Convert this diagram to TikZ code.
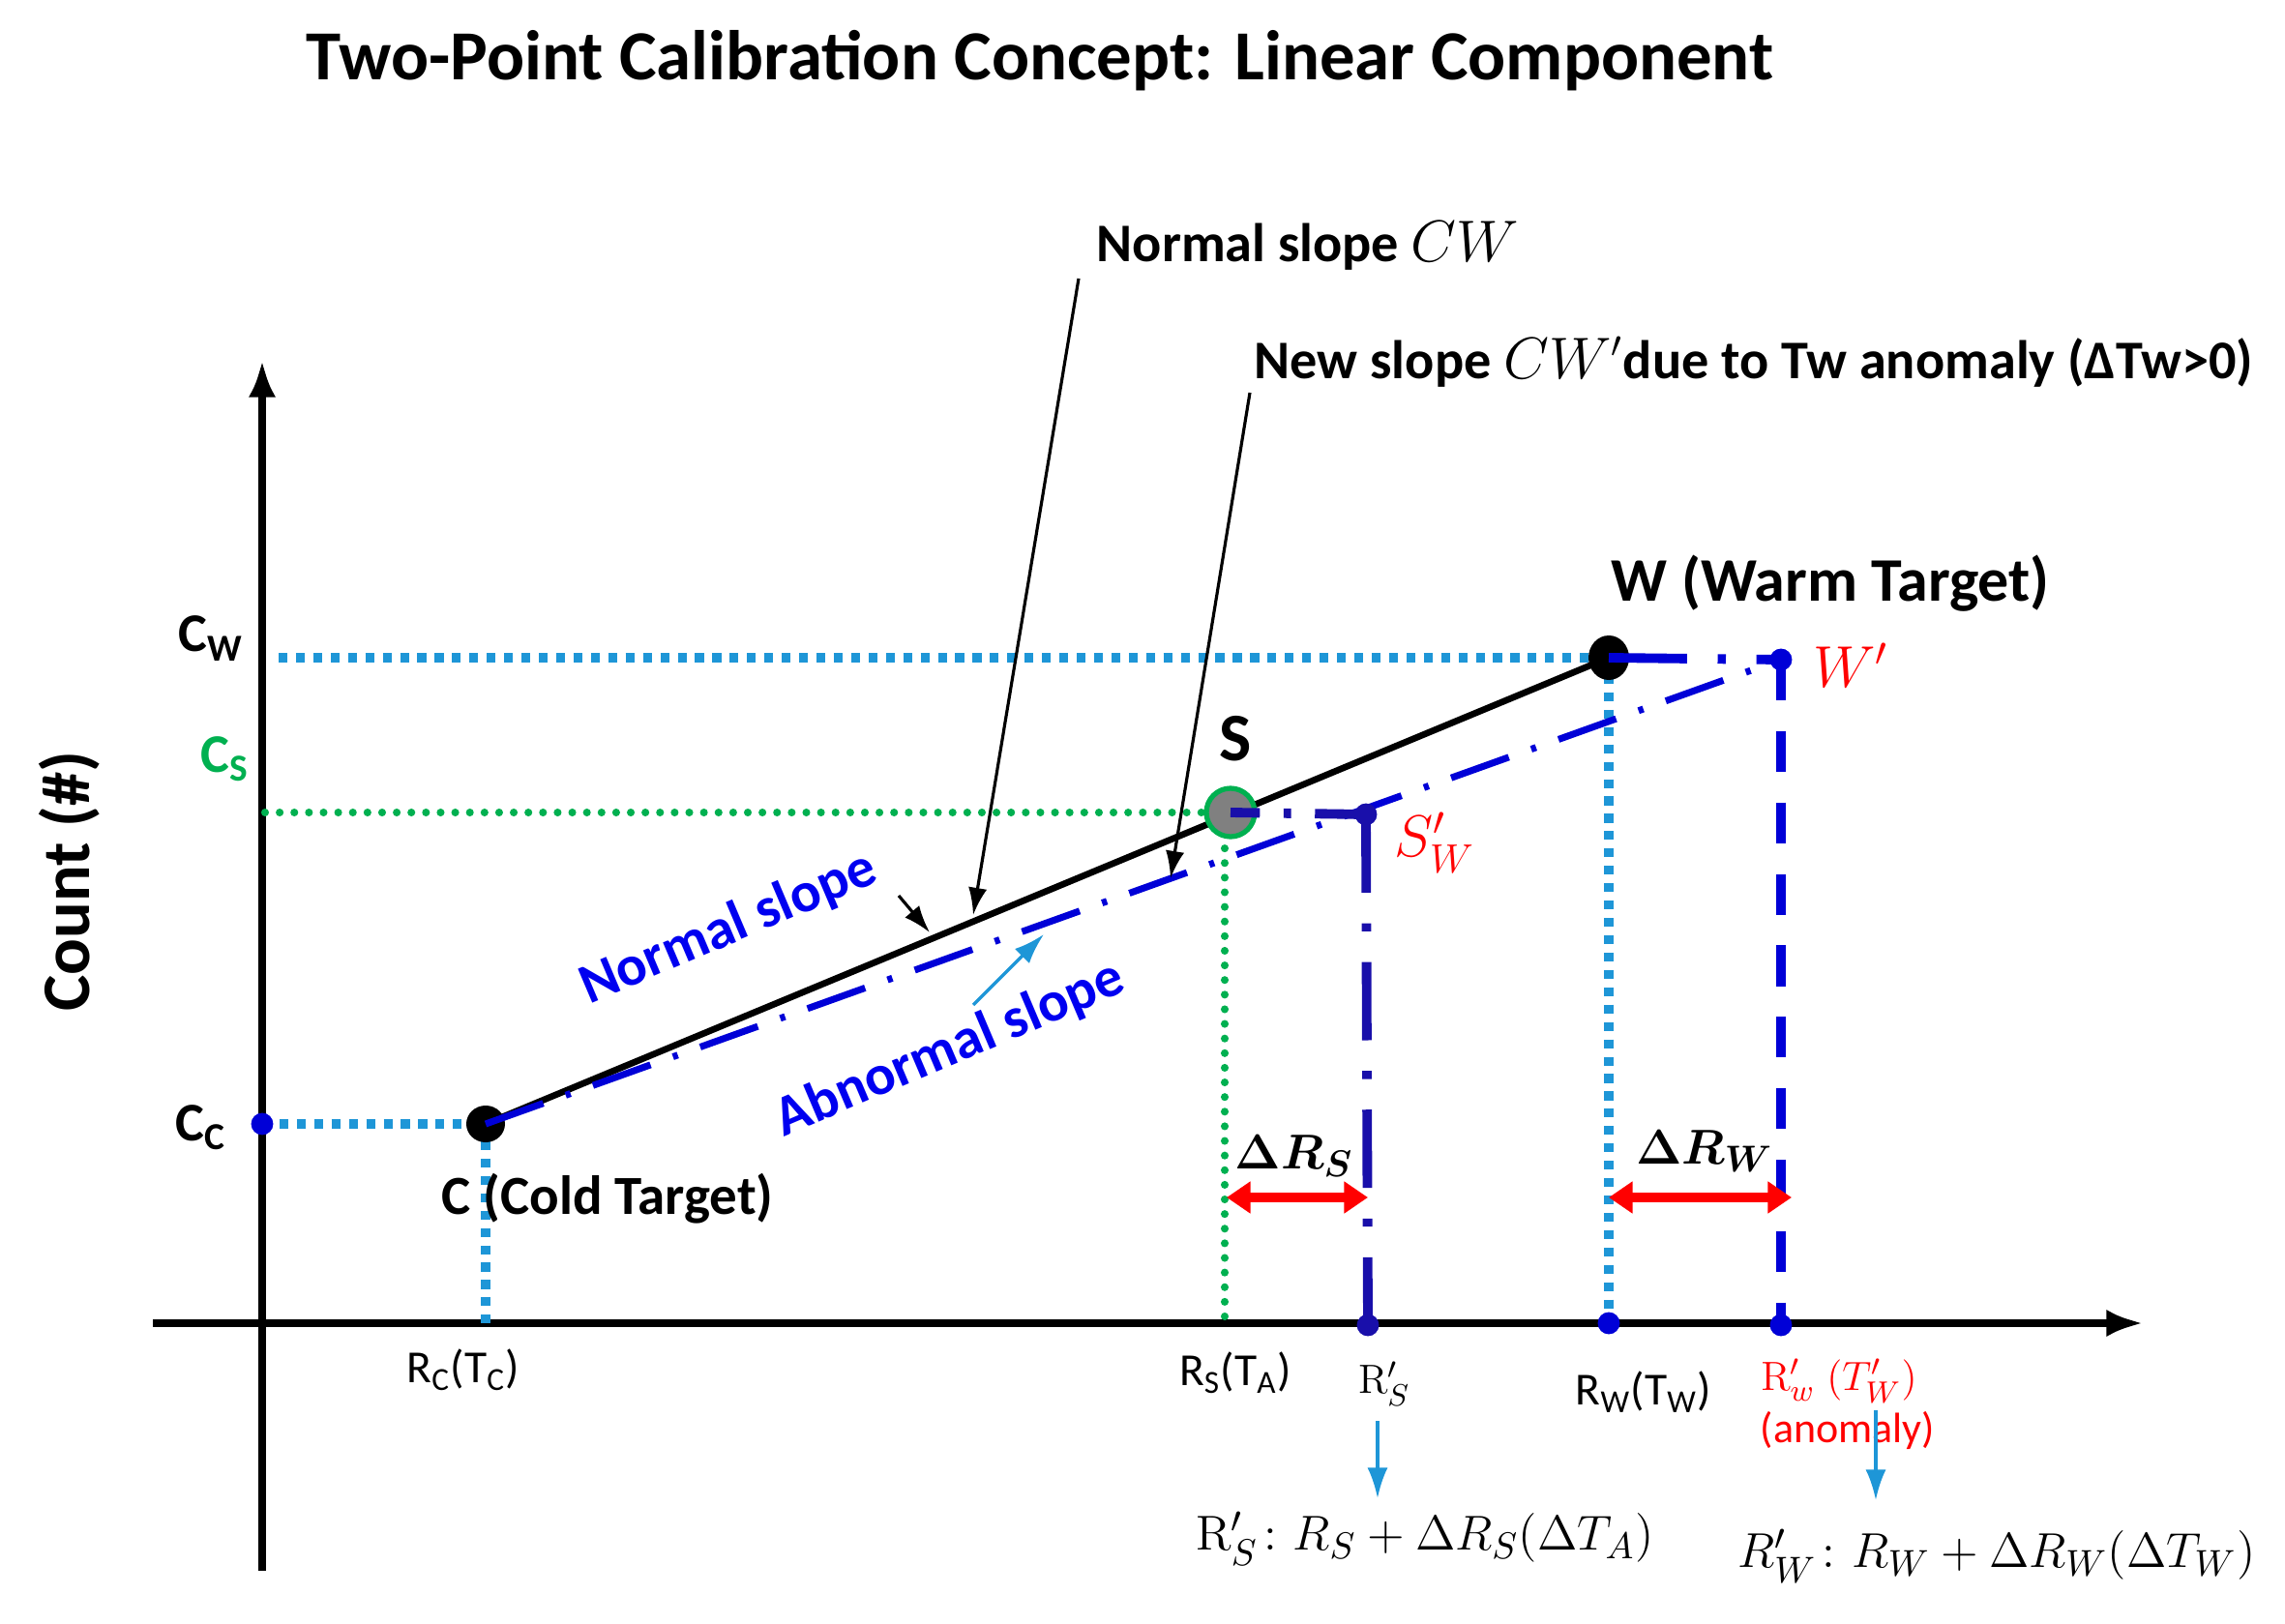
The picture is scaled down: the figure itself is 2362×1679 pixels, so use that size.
\documentclass[tikz,border=0pt]{standalone}
\usepackage[no-math]{fontspec}
\setmainfont{Carlito}
\usepackage{amsmath}
\usetikzlibrary{arrows.meta}
\definecolor{lblue}{RGB}{30,150,215}
\definecolor{dgreen}{RGB}{0,176,80}
\definecolor{navyb}{RGB}{25,15,170}
\definecolor{mblue}{RGB}{0,0,215}
\definecolor{tblue}{RGB}{0,0,240}
\definecolor{lred}{RGB}{255,0,0}
\newcommand{\fs}[1]{\fontsize{#1}{#1}\selectfont}
\begin{document}
\begin{tikzpicture}[x=0.01cm,y=-0.01cm,
  lbdot/.style={draw=lblue,line width=2.6pt,dash pattern=on 2.6pt off 2.5pt},
  gdot/.style={draw=dgreen,line width=2.3pt,line cap=round,dash pattern=on 0pt off 4.3pt},
  normalline/.style={draw=black,line width=1.9pt},
  abline/.style={draw=mblue,line width=2pt,dash pattern=on 18pt off 7pt on 1.5pt off 7pt},
  navydd/.style={draw=navyb,line width=2.8pt,dash pattern=on 23pt off 9pt on 2.4pt off 9pt},
  navyshort/.style={draw=navyb,line width=2.8pt,dash pattern=on 15pt off 7pt on 2.2pt off 7pt},
  bluedd/.style={draw=mblue,line width=2.8pt,dash pattern=on 23pt off 9pt on 2.4pt off 9pt},
  bluedash/.style={draw=mblue,line width=2.8pt,dash pattern=on 12pt off 9pt},
  axisline/.style={draw=black,line width=2.2pt,-{Latex[length=11pt,width=8pt]}},
  thinarrow/.style={draw=black,line width=0.9pt,-{Latex[length=8pt,width=5.5pt]}},
  lbarrow/.style={draw=lblue,line width=1pt,-{Latex[length=9pt,width=6pt]}},
  redarrow/.style={draw=lred,line width=2.6pt,{Triangle[length=7pt,width=9pt]}-{Triangle[length=7pt,width=9pt]}},
  bdot/.style={circle,fill=mblue,inner sep=0pt,minimum size=6.5pt},
  ndot/.style={circle,fill=navyb,inner sep=0pt,minimum size=6.5pt},
  lbl/.style={inner sep=0pt},
]
\useasboundingbox (0,0) rectangle (2362,1679);
% key coordinates
\coordinate (C) at (502,1162);
\coordinate (W) at (1663,680);
\coordinate (S) at (1272,840);
\coordinate (Sp) at (1412,842);
\coordinate (Wp) at (1841,682);
\coordinate (Cc) at (271,1162);
\coordinate (Cw) at (288,680);
\coordinate (Cs) at (274,840);
\coordinate (RC) at (502,1368);
\coordinate (Sv) at (1266,862);
\coordinate (RS) at (1266,1368);
\coordinate (RSp) at (1414,1370);
\coordinate (RW) at (1663,1368);
\coordinate (RWp) at (1841,1370);
\coordinate (ytop) at (271,372);
\coordinate (ybot) at (271,1624);
\coordinate (xleft) at (158,1368);
\coordinate (xright) at (2216,1368);

% axes
\draw[axisline] (ybot) -- (ytop);
\draw[axisline] (xleft) -- (xright);

% light blue dotted projections
\draw[lbdot] (Cw) -- (W);
\draw[lbdot] (Cc) -- (C);
\draw[lbdot] (C) -- (RC);
\draw[lbdot] (W) -- (RW);
% green dotted projections
\draw[gdot] (Cs) -- (S);
\draw[gdot] (Sv) -- (RS);

% normal slope
\draw[normalline] (C) -- (W);
\fill[black] (C) ellipse (20 and 19);
\fill[black] (W) ellipse (21 and 23);
% abnormal slope
\draw[abline] (C) -- (Wp);
% S point
\draw[draw=dgreen,fill=gray,line width=1.5pt] (S) circle (25);
% S' and W' constructions
\draw[navyshort] (Sp) -- (S);
\draw[navydd] (Sp) -- (RSp);
\draw[bluedd] (W) -- (Wp);
\draw[bluedash] (Wp) -- (RWp);

% dots
\node[bdot] (dCc) at (Cc) {};
\node[ndot] (dSp) at (Sp) {};
\node[bdot] (dWp) at (Wp) {};
\node[ndot] (dRSp) at (RSp) {};
\node[bdot] (dRW) at (RW) {};
\node[bdot] (dRWp) at (RWp) {};

% delta arrows
\coordinate (dRSa) at (1268,1238);
\coordinate (dRSb) at (1414,1238);
\coordinate (dRWa) at (1663,1238);
\coordinate (dRWb) at (1852,1238);
\draw[redarrow] (dRSa) -- (dRSb);
\draw[redarrow] (dRWa) -- (dRWb);

% title and axis label
\node[lbl,anchor=base west,font=\fs{20.7}\bfseries] (title) at (316,83) {Two-Point Calibration Concept: Linear Component};
\node[lbl,anchor=base,rotate=90,font=\fs{20}\bfseries] (count) at (93,911) {Count (\#)};

% y labels
\node[lbl,font=\fs{16}\bfseries] (lCw) at (218,660) {C\textsubscript{W}};
\node[lbl,font=\fs{16}\bfseries,text=dgreen] (lCs) at (233,785) {C\textsubscript{S}};
\node[lbl,font=\fs{16}\bfseries] (lCc) at (208,1166) {C\textsubscript{C}};

% point labels
\node[lbl,anchor=base west,font=\fs{18.2}\bfseries] (lW) at (1665,621) {W (Warm Target)};
\node[lbl,anchor=base west,font=\fs{16.2}\bfseries] (lC) at (456,1255) {C (Cold Target)};
\node[lbl,anchor=base,font=\fs{20}\bfseries] (lS) at (1277,786) {S};
\node[lbl,font=\fs{17.5},text=lred] (lWp) at (1913,688) {$W'$};
\node[lbl,font=\fs{17},text=lred] (lSp) at (1483,871) {$S'_W$};

% callouts
\node[lbl,anchor=base west,font=\fs{16}\bfseries] (nsl) at (1133,271) {Normal slope $CW$};
\node[lbl,anchor=base west,font=\fs{16}\bfseries] (nwl) at (1296,392) {New slope $CW'$due to Tw anomaly (ΔTw>0)};
\coordinate (nsStart) at (1115,288);
\coordinate (nsTip) at (1006,946);
\coordinate (nwStart) at (1292,406);
\coordinate (nwTip) at (1210,908);
\draw[thinarrow] (nsStart) -- (nsTip);
\draw[thinarrow] (nwStart) -- (nwTip);

% slope labels
\node[lbl,rotate=23,font=\fs{16.7}\bfseries,text=tblue] (lNs) at (753,960) {Normal slope};
\node[lbl,rotate=23,font=\fs{16.7}\bfseries,text=tblue] (lAs) at (982,1085) {Abnormal slope};
\coordinate (sa1) at (929,926);
\coordinate (sa2) at (961,964);
\draw[thinarrow] (sa1) -- (sa2);
\coordinate (ab1) at (1006,1039);
\coordinate (ab2) at (1079,966);
\draw[lbarrow] (ab1) -- (ab2);

% delta labels
\node[lbl,font=\fs{15}\boldmath] (ldRS) at (1338,1195) {$\Delta R_S$};
\node[lbl,font=\fs{15}\boldmath] (ldRW) at (1762,1190) {$\Delta R_W$};

% x labels
\node[lbl,font=\fs{13.5}] (lRC) at (479,1416) {R\textsubscript{C}(T\textsubscript{C})};
\node[lbl,font=\fs{13.5}] (lRS) at (1277,1419) {R\textsubscript{S}(T\textsubscript{A})};
\node[lbl,font=\fs{13}] (lRSp) at (1431,1431) {$\mathrm{R}'_S$};
\node[lbl,font=\fs{13},text=lred] (lRWp) at (1901,1428) {$\mathrm{R}'_w\;(T'_W)$};
\node[lbl,font=\fs{13.5}] (lRW) at (1699,1439) {R\textsubscript{W}(T\textsubscript{W})};
\node[lbl,font=\fs{12.5},text=lred] (lanom) at (1910,1479) {(anomaly)};

% bottom arrows and formulas
\coordinate (ba1) at (1424,1469);
\coordinate (ba2) at (1424,1549);
\coordinate (bb1) at (1939,1458);
\coordinate (bb2) at (1939,1551);
\draw[lbarrow] (ba1) -- (ba2);
\draw[lbarrow] (bb1) -- (bb2);
\node[lbl,font=\fs{15.5}] (f1) at (1473,1591) {$\mathrm{R}'_S\colon R_S+\Delta R_S(\Delta T_A)$};
\node[lbl,font=\fs{15.5}] (f2) at (2064,1609) {$R'_W\colon R_W+\Delta R_W(\Delta T_W)$};
\end{tikzpicture}
\end{document}
